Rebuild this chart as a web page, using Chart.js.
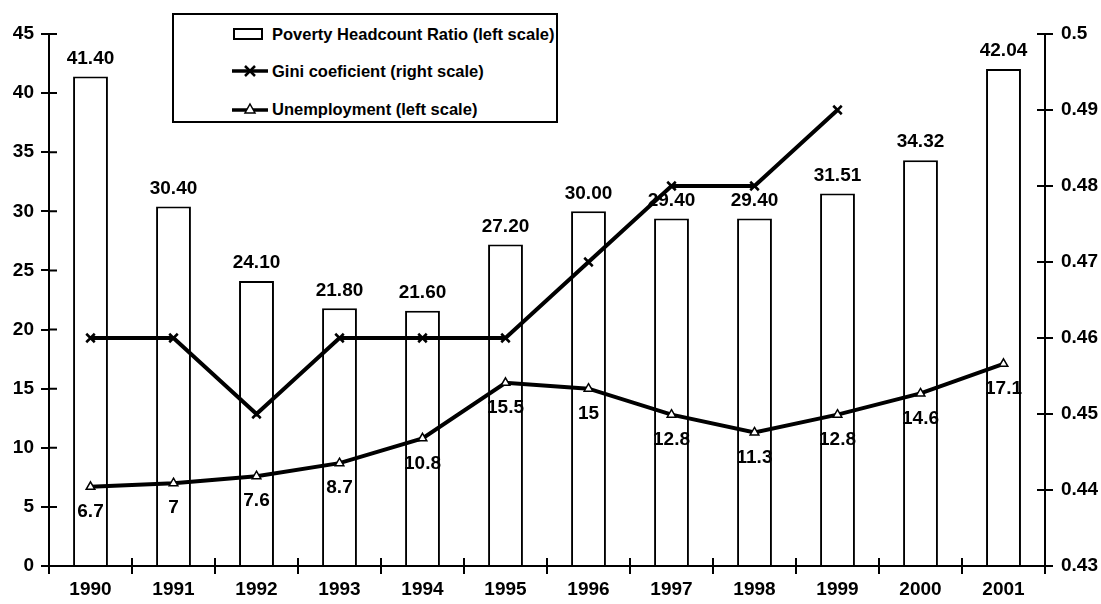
<!DOCTYPE html>
<html>
<head>
<meta charset="utf-8">
<script src="https://cdn.jsdelivr.net/npm/chart.js@4.4.1/dist/chart.umd.min.js"></script>
<style>
    body { margin: 0; background: #fff; }
    #wrap { position: relative; width: 1101px; height: 604px; }
    #legenda {
        position: absolute; left: 172px; top: 13px; width: 382px; height: 106px;
        border: 2px solid #000; background: #fff;
        font: bold 16.5px "Liberation Sans", Arial, sans-serif; color: #000;
    }
    #legenda .item { position: absolute; left: 58px; height: 20px; display: flex; align-items: center; }
    #legenda svg { margin-right: 4px; }
</style>
</head>
<body>
<div id="wrap">
    <canvas id="chartPobreza"></canvas>
    <div id="legenda">
        <div class="item" style="top:9px">
            <svg width="36" height="14"><rect x="2" y="2" width="28" height="10" fill="#fff" stroke="#000" stroke-width="2"/></svg>Poverty Headcount Ratio (left scale)
        </div>
        <div class="item" style="top:46px">
            <svg width="36" height="14"><line x1="0" y1="7" x2="36" y2="7" stroke="#000" stroke-width="3.5"/><path d="M13 2 L23 12 M23 2 L13 12" stroke="#000" stroke-width="2.5"/></svg>Gini coeficient (right scale)
        </div>
        <div class="item" style="top:84px">
            <svg width="36" height="14"><line x1="0" y1="8" x2="36" y2="8" stroke="#000" stroke-width="3.5"/><path d="M18 2 L23 11 L13 11 Z" fill="#fff" stroke="#000" stroke-width="1.5"/></svg>Unemployment (left scale)
        </div>
    </div>
</div>
<script>
var anos = ['1990', '1991', '1992', '1993', '1994', '1995', '1996', '1997', '1998', '1999', '2000', '2001'];
var pobreza = [41.40, 30.40, 24.10, 21.80, 21.60, 27.20, 30.00, 29.40, 29.40, 31.51, 34.32, 42.04];
var gini = [0.46, 0.46, 0.45, 0.46, 0.46, 0.46, 0.47, 0.48, 0.48, 0.49, null, null];
var desemprego = [6.7, 7, 7.6, 8.7, 10.8, 15.5, 15, 12.8, 11.3, 12.8, 14.6, 17.1];

var fonte = '"Liberation Sans", Arial, sans-serif';

// rotulos de valor sobre as barras e abaixo da linha de desemprego
var rotulos = {
    id: 'rotulos',
    afterDatasetsDraw: function (chart) {
        var ctx = chart.ctx;
        ctx.save();
        ctx.font = 'bold 19px ' + fonte;
        ctx.fillStyle = '#000';
        ctx.textAlign = 'center';
        ctx.textBaseline = 'middle';
        chart.getDatasetMeta(0).data.forEach(function (el, i) {
            ctx.fillText(pobreza[i].toFixed(2), el.x, el.y - 18);
        });
        chart.getDatasetMeta(2).data.forEach(function (el, i) {
            ctx.fillText(String(desemprego[i]), el.x, el.y + 25);
        });
        ctx.restore();
    }
};

// parte interna dos tracos dos eixos (cruzando a linha)
var tracos = {
    id: 'tracos',
    afterDraw: function (chart) {
        var ctx = chart.ctx;
        var s = chart.scales;
        ctx.save();
        ctx.strokeStyle = '#000';
        ctx.lineWidth = 2;
        ctx.beginPath();
        s.y.ticks.forEach(function (t) {
            var y = s.y.getPixelForValue(t.value);
            ctx.moveTo(s.y.right, y); ctx.lineTo(s.y.right + 8, y);
        });
        s.y1.ticks.forEach(function (t) {
            var y = s.y1.getPixelForValue(t.value);
            ctx.moveTo(s.y1.left, y); ctx.lineTo(s.y1.left - 8, y);
        });
        for (var i = 0; i <= anos.length; i++) {
            var x = s.x.getPixelForValue(i - 0.5);
            ctx.moveTo(x, s.x.top); ctx.lineTo(x, s.x.top - 8);
        }
        ctx.stroke();
        ctx.restore();
    }
};

Chart.defaults.font.family = fonte;
Chart.defaults.color = '#000';

new Chart(document.getElementById('chartPobreza'), {
    type: 'bar',
    data: {
        labels: anos,
        datasets: [{
            type: 'bar',
            label: 'Poverty Headcount Ratio (left scale)',
            data: pobreza,
            backgroundColor: '#fff',
            borderColor: '#000',
            borderWidth: 2,
            barPercentage: 0.42,
            categoryPercentage: 1,
            yAxisID: 'y',
            order: 3
        }, {
            type: 'line',
            label: 'Gini coeficient (right scale)',
            data: gini,
            borderColor: '#000',
            borderWidth: 4,
            pointStyle: 'crossRot',
            pointRadius: 6,
            pointBorderWidth: 2.5,
            pointBorderColor: '#000',
            tension: 0,
            yAxisID: 'y1',
            order: 1
        }, {
            type: 'line',
            label: 'Unemployment (left scale)',
            data: desemprego,
            borderColor: '#000',
            borderWidth: 4,
            pointStyle: 'triangle',
            pointRadius: 5,
            pointBackgroundColor: '#fff',
            pointBorderColor: '#000',
            pointBorderWidth: 1.5,
            tension: 0,
            yAxisID: 'y',
            order: 2
        }]
    },
    options: {
        responsive: true,
        maintainAspectRatio: false,
        animation: false,
        layout: { padding: { top: 34, right: 0, left: 0, bottom: 0 } },
        plugins: { legend: { display: false }, tooltip: { enabled: false } },
        scales: {
            x: {
                offset: true,
                grid: { offset: true, drawOnChartArea: false, color: '#000', lineWidth: 2, tickLength: 8 },
                border: { color: '#000', width: 2 },
                ticks: { font: { size: 19, weight: 'bold' }, padding: 4, maxRotation: 0 },
                afterFit: function (scale) { scale.height = 38; }
            },
            y: {
                position: 'left',
                min: 0, max: 45,
                ticks: { stepSize: 5, font: { size: 19, weight: 'bold' }, padding: 7 },
                grid: { drawOnChartArea: false, color: '#000', lineWidth: 2, tickLength: 8 },
                border: { color: '#000', width: 2 },
                afterFit: function (scale) { scale.width = 49; }
            },
            y1: {
                position: 'right',
                min: 0.43, max: 0.5,
                ticks: {
                    stepSize: 0.01, font: { size: 19, weight: 'bold' }, padding: 8,
                    callback: function (v) { return String(parseFloat(v.toFixed(2))); }
                },
                grid: { drawOnChartArea: false, color: '#000', lineWidth: 2, tickLength: 8 },
                border: { color: '#000', width: 2 },
                afterFit: function (scale) { scale.width = 56; }
            }
        }
    },
    plugins: [rotulos, tracos]
});
</script>
</body>
</html>
